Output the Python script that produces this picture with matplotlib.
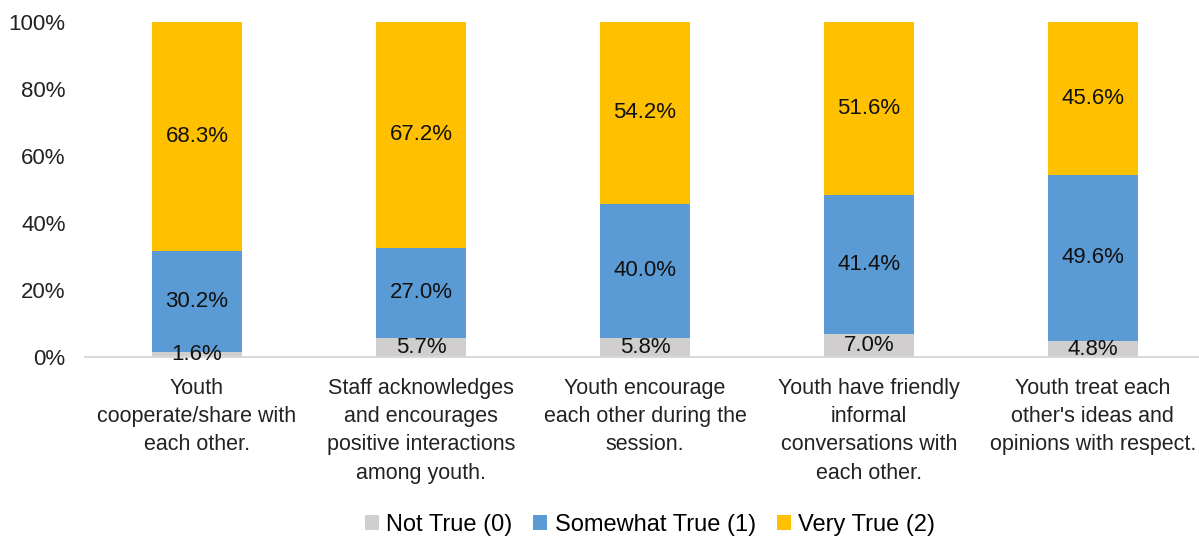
import numpy as np
import matplotlib.pyplot as plt

plt.rcParams['font.family'] = ['Liberation Sans', 'DejaVu Sans']

categories = [
    "Youth\ncooperate/share with\neach other.",
    "Staff acknowledges\nand encourages\npositive interactions\namong youth.",
    "Youth encourage\neach other during the\nsession.",
    "Youth have friendly\ninformal\nconversations with\neach other.",
    "Youth treat each\nother's ideas and\nopinions with respect.",
]
not_true = [1.6, 5.7, 5.8, 7.0, 4.8]
somewhat_true = [30.2, 27.0, 40.0, 41.4, 49.6]
very_true = [68.3, 67.2, 54.2, 51.6, 45.6]

series = [
    ("Not True (0)", not_true, "#D0CECE"),
    ("Somewhat True (1)", somewhat_true, "#5B9BD5"),
    ("Very True (2)", very_true, "#FFC000"),
]

fig = plt.figure(figsize=(11.99, 5.37), dpi=100)
ax = fig.add_axes([0.0709, 0.335, 0.934, 0.624])

x = np.arange(len(categories))
bottom = np.zeros(len(categories))
for name, vals, color in series:
    vals = np.array(vals)
    ax.bar(x, vals, 0.4, bottom=bottom, color=color, label=name, zorder=2)
    # value label in the middle of each segment
    for xi, b, v in zip(x, bottom, vals):
        ax.text(xi, b + v / 2, f"{v:.1f}%", ha="center", va="center",
                fontsize=16, color="#111111", zorder=3)
    bottom += vals

ax.set_xlim(-0.5, len(categories) - 0.5)
ax.set_ylim(0, 100)
ax.set_yticks(range(0, 101, 20))
ax.set_yticklabels([f"{v}%" for v in range(0, 101, 20)], fontsize=16)
ax.set_xticks(x)
ax.set_xticklabels(categories, fontsize=15.5, linespacing=1.45)
ax.tick_params(axis="both", length=0, colors="#222222")
ax.tick_params(axis="y", pad=14)
ax.tick_params(axis="x", pad=15)
for side in ["top", "right", "left"]:
    ax.spines[side].set_visible(False)
ax.spines["bottom"].set_color("#D9D9D9")
ax.spines["bottom"].set_linewidth(1.5)

fig.legend(loc="center", bbox_to_anchor=(0.542, 0.022), ncol=3, frameon=False,
           fontsize=17, handlelength=0.6, handleheight=0.6, handletextpad=0.3,
           columnspacing=0.9)

fig.savefig("out.png", dpi=100)
